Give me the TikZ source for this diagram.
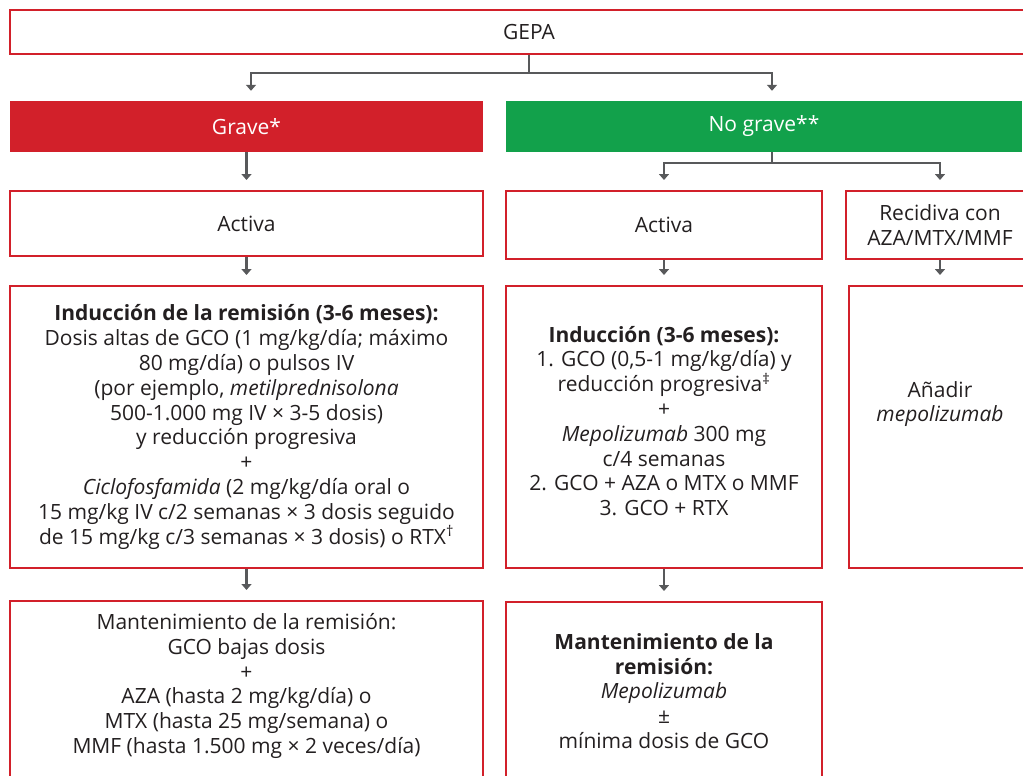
\documentclass[tikz,border=0pt]{standalone}
\usepackage{fontspec}
\setmainfont{Open Sans}
\usetikzlibrary{arrows.meta}
\definecolor{gepared}{HTML}{D2202A}
\definecolor{gepagreen}{HTML}{12A14B}
\definecolor{arrowgray}{HTML}{58595B}
\definecolor{txtgray}{HTML}{231F20}
\tikzset{
  box/.style={draw=gepared, line width=2pt, inner sep=0pt},
  txt/.style={align=center, text=txtgray, inner sep=0pt, font=\fontsize{21}{24.8}\selectfont},
  grade/.style={inner sep=0pt, text=white, font=\fontsize{21}{24.8}\selectfont},
  link/.style={draw=arrowgray, line width=2.4pt},
  flow/.style={link, -{Triangle[length=6pt,width=10pt]}, shorten >=10pt},
}
\begin{document}
\begin{tikzpicture}[x=1pt,y=-1pt]
  \useasboundingbox (0,0) rectangle (1023,776);
  \clip (0,0) rectangle (1023,776);
  \node[box, txt, minimum width=1038pt, minimum height=44pt] (gepa) at (529,32) {GEPA};
  \node[grade, fill=gepared, minimum width=473pt, minimum height=51pt] (grave) at (246.5,126.5) {Grave*};
  \node[grade, fill=gepagreen, minimum width=516pt, minimum height=51pt] (nograve) at (764,126.5) {No grave**};
  \node[box, txt, minimum width=473pt, minimum height=65pt] (activag) at (246.5,223.5) {Activa};
  \node[box, txt, minimum width=316pt, minimum height=68pt] (activang) at (664,225) {Activa};
  \node[box, txt, minimum width=188pt, minimum height=68pt] (recid) at (940,225)
    {Recidiva con\\AZA/MTX/MMF};
  \node[box, txt, minimum width=473pt, minimum height=282pt] (indg) at (246.5,427)
    {\textbf{Inducción de la remisión (3-6 meses):}\\
     Dosis altas de GCO (1 mg/kg/día; máximo\\
     80 mg/día) o pulsos IV\\
     (por ejemplo, \textit{metilprednisolona}\\
     500-1.000 mg IV × 3-5 dosis)\\
     y reducción progresiva\\
     +\\
     \textit{Ciclofosfamida} (2 mg/kg/día oral o\\
     15 mg/kg IV c/2 semanas × 3 dosis seguido\\
     de 15 mg/kg c/3 semanas × 3 dosis) o RTX\textsuperscript{†}};
  \node[box, minimum width=316pt, minimum height=282pt] (indng) at (664,427) {};
  \node[txt] (indngtext) at (664,421)
    {\textbf{Inducción (3-6 meses):}\\
     1. GCO (0,5-1 mg/kg/día) y\\
     reducción progresiva\textsuperscript{‡}\\
     +\\
     \textit{Mepolizumab} 300 mg\\
     c/4 semanas\\
     2. GCO + AZA o MTX o MMF\\
     3. GCO + RTX};
  \node[box, minimum width=182pt, minimum height=282pt] (anadir) at (940,427) {};
  \node[txt] (anadirtext) at (940,404) {Añadir\\\textit{mepolizumab}};
  \node[box, minimum width=473pt, minimum height=200pt] (mantg) at (246.5,701) {};
  \node[txt] (mantgtext) at (246.5,686)
    {Mantenimiento de la remisión:\\
     GCO bajas dosis\\
     +\\
     AZA (hasta 2 mg/kg/día) o\\
     MTX (hasta 25 mg/semana) o\\
     MMF (hasta 1.500 mg × 2 veces/día)};
  \node[box, minimum width=316pt, minimum height=200pt] (mantng) at (664,702) {};
  \node[txt] (mantngtext) at (664,691)
    {\textbf{Mantenimiento de la}\\
     \textbf{remisión:}\\
     \textit{Mepolizumab}\\
     ±\\
     mínima dosis de GCO};
  \coordinate (split1) at (529,73);
  \coordinate (split2) at (772,163);
  \draw[link] (gepa.south) -- (split1);
  \draw[flow] (split1) -| ([xshift=4.5pt]grave.north);
  \draw[flow] (split1) -| ([xshift=8pt]nograve.north);
  \draw[flow] (grave) -- (activag);
  \draw[link] (nograve.south -| split2) -- (split2);
  \draw[flow] (split2) -| (activang.north);
  \draw[flow] (split2) -| (recid.north);
  \draw[flow] (activag) -- (indg);
  \draw[flow] (activang) -- (indng);
  \draw[flow] (recid.south) -- (anadir.north);
  \draw[flow] (indg) -- (mantg);
  \draw[flow] (indng) -- (mantng);
\end{tikzpicture}
\end{document}
